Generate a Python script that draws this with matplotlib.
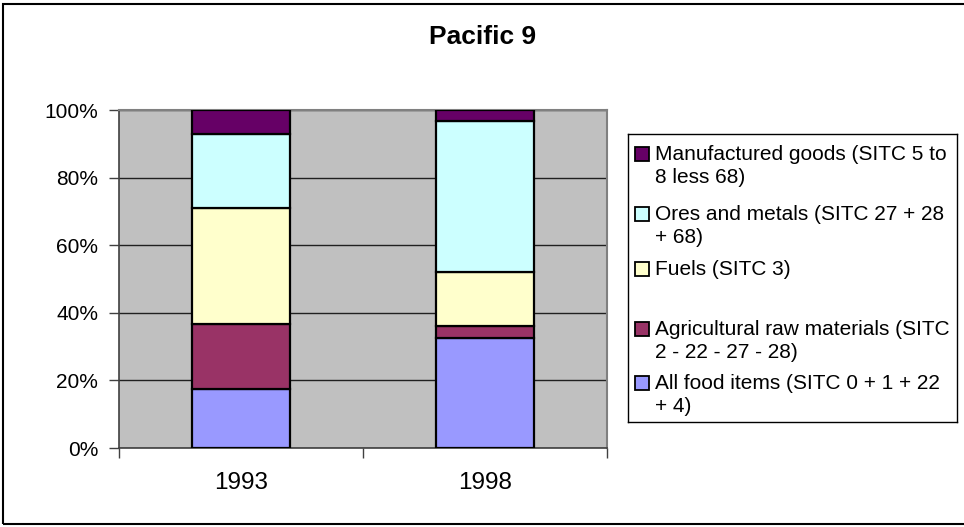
import matplotlib
matplotlib.use("Agg")
import matplotlib.pyplot as plt
from matplotlib.patches import Rectangle
import numpy as np

plt.rcParams['font.family'] = ['Liberation Sans', 'DejaVu Sans']

# data (shares of exports, %)
years = ['1993', '1998']
food = [17.5, 32.5]
agri = [19.1, 3.6]
fuels = [34.3, 15.9]
ores = [22.1, 44.7]
manuf = [7.0, 3.3]

series = [food, agri, fuels, ores, manuf]
labels = ['All food items (SITC 0 + 1 + 22\n+ 4)',
          'Agricultural raw materials (SITC\n2 - 22 - 27 - 28)',
          'Fuels (SITC 3)',
          'Ores and metals (SITC 27 + 28\n+ 68)',
          'Manufactured goods (SITC 5 to\n8 less 68)']
colors = ['#9999FF', '#993366', '#FFFFCC', '#CCFFFF', '#660066']

W, H = 964, 527
fig = plt.figure(figsize=(W / 100, H / 100), dpi=100)

# outer chart border
fig.patches.append(Rectangle((3 / W, 3 / H), 1.2, (H - 7) / H, transform=fig.transFigure,
                             fill=False, edgecolor='black', lw=1.5))

ax = fig.add_axes([119 / W, (H - 448) / H, 488 / W, 338 / H])
ax.set_facecolor('#C0C0C0')

x = np.arange(len(years))
bottom = np.zeros(len(years))
for vals, col, lab in zip(series, colors, labels):
    ax.bar(x, vals, width=0.4, bottom=bottom, color=col, edgecolor='black',
           linewidth=1.6, label=lab, zorder=3)
    bottom += np.array(vals)

ax.set_xlim(-0.5, 1.5)
ax.set_ylim(0, 100)
ax.set_yticks(np.arange(0, 101, 20))
ax.set_yticklabels(['%d%%' % v for v in range(0, 101, 20)], fontsize=15)
ax.yaxis.grid(True, color='#202020', lw=1.0, zorder=1)
ax.set_axisbelow(True)
ax.tick_params(axis='y', direction='out', length=7, width=1, pad=8, color='#404040')

ax.set_xticks([-0.5, 0.5, 1.5])
ax.set_xticklabels([])
ax.set_xticks(x, minor=True)
ax.set_xticklabels(years, minor=True, fontsize=17.5)
ax.tick_params(axis='x', which='major', direction='out', length=7, width=1, color='#404040')
ax.tick_params(axis='x', which='minor', length=0, pad=17)

for s in ['top', 'right']:
    ax.spines[s].set_color('#808080')
    ax.spines[s].set_linewidth(1.5)
for s in ['left', 'bottom']:
    ax.spines[s].set_color('#404040')
    ax.spines[s].set_linewidth(1.2)

fig.text(483 / W, 1 - 37 / H, 'Pacific 9', ha='center', va='center',
         fontsize=19, fontweight='bold')

# legend box, drawn like the spreadsheet legend (top entry first)
lax = fig.add_axes([628 / W, (H - 422) / H, 329 / W, 288 / H])
lax.set_xlim(0, 329)
lax.set_ylim(288, 0)
lax.set_xticks([])
lax.set_yticks([])
for s in lax.spines.values():
    s.set_color('black')
    s.set_linewidth(1)
leg_base = [26, 86, 141, 201, 255]  # first-line baselines inside the box, px
for yb, lab, col in zip(leg_base, labels[::-1], colors[::-1]):
    lax.add_patch(Rectangle((7, yb - 13), 14, 14, facecolor=col, edgecolor='black', lw=1.3))
    for k, line in enumerate(lab.split('\n')):
        lax.text(27, yb + k * 23, line, fontsize=15, va='baseline', ha='left')

fig.savefig('out.png', dpi=100)
